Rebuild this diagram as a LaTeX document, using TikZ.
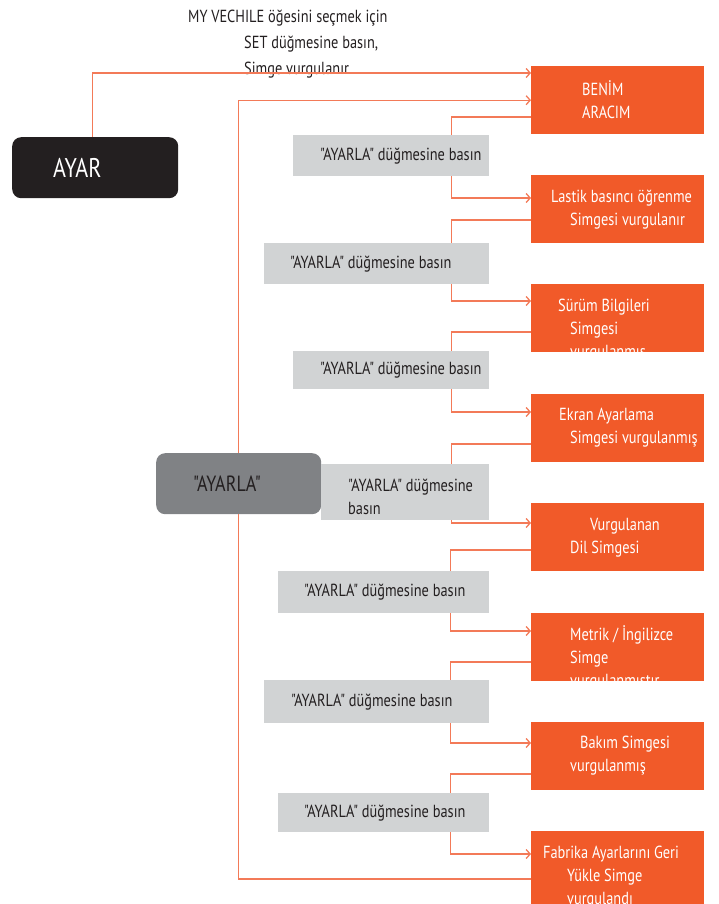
\documentclass[tikz,border=0pt]{standalone}
\usepackage{fontspec}
\newfontfamily\ptsans[FakeStretch=0.82]{PT Sans}
\usetikzlibrary{positioning,arrows.meta}
\definecolor{boxorange}{RGB}{241,90,41}
\definecolor{lineorange}{RGB}{243,122,88}
\definecolor{boxgray}{RGB}{209,211,212}
\definecolor{setgray}{RGB}{128,130,133}
\definecolor{inkblack}{RGB}{35,31,32}
\newcommand{\txt}{\ptsans\fontsize{17.5}{23}\selectfont}

\begin{document}
\begin{tikzpicture}[x=1pt, y=-1pt,
	obox/.style={ fill=boxorange, anchor=north west, inner sep=0pt, minimum width=173pt, minimum height=68pt },
	otext/.style={ text=white, inner sep=0pt, align=left, font=\txt },
	gbox/.style={ fill=boxgray, anchor=north west, inner sep=0pt },
	gtext/.style={ text=inkblack, inner sep=0pt, align=left, font=\txt },
	menu/.style={ anchor=north west, rounded corners=9pt, inner sep=0pt, minimum width=165pt, minimum height=61pt },
	link/.style={ draw=lineorange, line width=1.3pt, -{Straight Barb[length=4pt,width=9pt]} },
	tie/.style={ draw=lineorange, line width=1.3pt }
]
\useasboundingbox (0,0) rectangle (719,904);

\node at (188,4) (hint) [anchor=north west, text=inkblack, inner sep=0pt, align=left, font=\ptsans\fontsize{17.5}{26}\selectfont]
  {\strut MY VECHILE öğesini seçmek için\\\hspace*{56pt}SET düğmesine basın,\\\hspace*{56pt}Simge vurgulanır};

\node at (12,137) (ayar) [menu, fill=inkblack, minimum width=166pt] {};
\node[right=41pt of ayar.west, text=white, inner sep=0pt, font=\ptsans\fontsize{27}{30}\selectfont] (ayart) {AYAR};
\node at (156,453) (ayarla) [menu, fill=setgray] {};
\node[right=37pt of ayarla.west, text=inkblack, inner sep=0pt, font=\ptsans\fontsize{22}{25}\selectfont] (ayarlat) {"AYARLA"};

\node at (531,66) (b1) [obox] {};
\node[otext, below right=13pt and 51pt of b1.north west] (b1t) {\strut BENİM\\ARACIM};
\node at (531,175) (b2) [obox] {};
\node[otext, below right=11pt and 20pt of b2.north west] (b2t) {\strut Lastik basıncı öğrenme\\\hspace*{19pt}Simgesi vurgulanır};
\node at (531,284) (b3) [obox] {};
\node[otext, below right=11pt and 27pt of b3.north west] (b3t) {\strut Sürüm Bilgileri\\\hspace*{12pt}Simgesi\\\hspace*{12pt}vurgulanmış};
\node at (531,394) (b4) [obox] {};
\node[otext, below right=10pt and 28pt of b4.north west] (b4t) {\strut Ekran Ayarlama\\\hspace*{11pt}Simgesi vurgulanmış};
\node at (531,503) (b5) [obox] {};
\node[otext, below right=11pt and 39pt of b5.north west] (b5t) {\strut\hspace*{20pt}Vurgulanan\\Dil Simgesi};
\node at (531,613) (b6) [obox] {};
\node[otext, below right=11pt and 39pt of b6.north west] (b6t) {\strut Metrik / İngilizce\\Simge\\vurgulanmıştır};
\node at (531,722) (b7) [obox] {};
\node[otext, below right=10pt and 39pt of b7.north west] (b7t) {\strut\hspace*{10pt}Bakım Simgesi\\vurgulanmış};
\node at (531,831) (b8) [obox, minimum height=80pt] {};
\node[otext, below right=11pt and 12pt of b8.north west] (b8t) {\strut Fabrika Ayarlarını Geri\\\hspace*{24pt}Yükle Simge\\\hspace*{24pt}vurgulandı};

\node at (293,135) (g1) [gbox, minimum width=196pt, minimum height=41pt] {};
\node[gtext, right=27pt of g1.west] (g1t) {"AYARLA" düğmesine basın};
\node at (264,243) (g2) [gbox, minimum width=225pt, minimum height=41pt] {};
\node[gtext, right=26pt of g2.west] (g2t) {"AYARLA" düğmesine basın};
\node at (293,351) (g3) [gbox, minimum width=196pt, minimum height=38pt] {};
\node[gtext, right=27pt of g3.west] (g3t) {"AYARLA" düğmesine basın};
\node at (321,464) (g4) [gbox, minimum width=168pt, minimum height=56pt] {};
\node[gtext, right=27pt of g4.west, yshift=-5pt] (g4t) {"AYARLA" düğmesine\\basın};
\node at (278,571) (g5) [gbox, minimum width=211pt, minimum height=42pt] {};
\node[gtext, right=26pt of g5.west] (g5t) {"AYARLA" düğmesine basın};
\node at (264,680) (g6) [gbox, minimum width=225pt, minimum height=43pt] {};
\node[gtext, right=27pt of g6.west] (g6t) {"AYARLA" düğmesine basın};
\node at (278,793) (g7) [gbox, minimum width=211pt, minimum height=39pt] {};
\node[gtext, right=26pt of g7.west] (g7t) {"AYARLA" düğmesine basın};

\draw[link] ([xshift=-3pt]ayar.north) |- ([yshift=-7pt]b1.north west);
\draw[link] (ayarla.north) |- (b1.west);
\draw[tie] ([yshift=-51pt]b1.north west) -| ([xshift=-38pt]g1.north east);
\draw[link] ([xshift=-38pt]g1.south east) |- ([yshift=-23pt]b2.north west);
\draw[tie] ([yshift=-45pt]b2.north west) -| ([xshift=-38pt]g2.north east);
\draw[link] ([xshift=-38pt]g2.south east) |- ([yshift=-17pt]b3.north west);
\draw[tie] ([yshift=-48pt]b3.north west) -| ([xshift=-38pt]g3.north east);
\draw[link] ([xshift=-38pt]g3.south east) |- ([yshift=-18pt]b4.north west);
\draw[tie] ([yshift=-50pt]b4.north west) -| ([xshift=-38pt]g4.north east);
\draw[link] ([xshift=-38pt]g4.south east) |- ([yshift=-20pt]b5.north west);
\draw[tie] ([yshift=-47pt]b5.north west) -| ([xshift=-39pt]g5.north east);
\draw[link] ([xshift=-39pt]g5.south east) |- ([yshift=-18pt]b6.north west);
\draw[tie] ([yshift=-49pt]b6.north west) -| ([xshift=-39pt]g6.north east);
\draw[link] ([xshift=-39pt]g6.south east) |- ([yshift=-21pt]b7.north west);
\draw[tie] ([yshift=-52pt]b7.north west) -| ([xshift=-39pt]g7.north east);
\draw[link] ([xshift=-39pt]g7.south east) |- ([yshift=-23pt]b8.north west);
\draw[tie] ([yshift=-48pt]b8.north west) -| (ayarla.south);

\end{tikzpicture}
\end{document}
